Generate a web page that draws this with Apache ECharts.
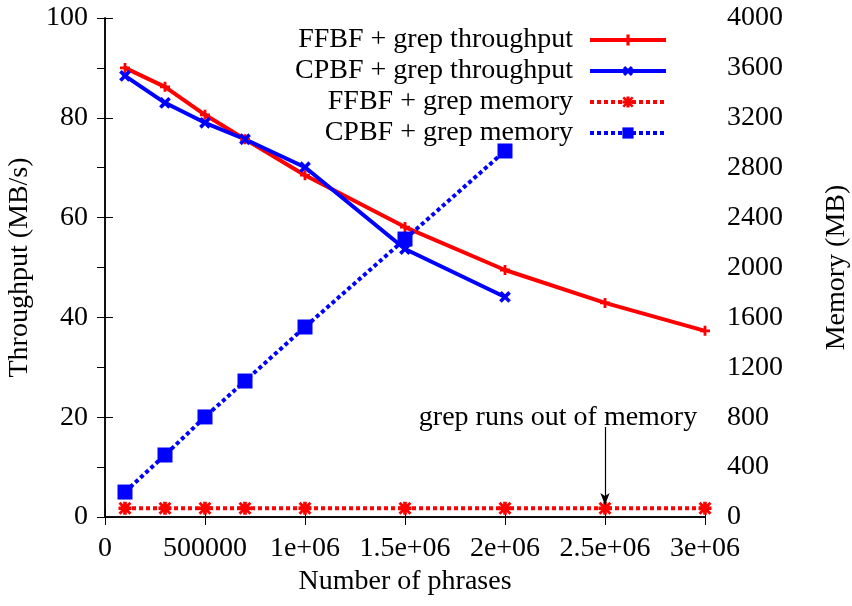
<!DOCTYPE html>
<html>
<head>
<meta charset="utf-8">
<script src="https://cdn.jsdelivr.net/npm/echarts@6/dist/echarts.min.js"></script>
<style>
  html, body { margin: 0; padding: 0; background: #fff; }
  #chart { width: 852px; height: 606px; }
</style>
</head>
<body>
<div id="chart"></div>
<script>
// Number of phrases on the x axis
const phrases = [100000, 300000, 500000, 700000, 1000000, 1500000, 2000000, 2500000, 3000000];
const xTickLabels = ['0', '500000', '1e+06', '1.5e+06', '2e+06', '2.5e+06', '3e+06'];

// Throughput (MB/s)
const ffbfThroughput = [90.0, 86.2, 80.6, 75.7, 68.5, 58.1, 49.5, 42.9, 37.3];
const cpbfThroughput = [88.4, 83.0, 79.0, 75.7, 70.1, 53.7, 44.1];

// Memory (MB)
const ffbfMemory = [70, 70, 70, 70, 70, 70, 70, 70, 70];
const cpbfMemory = [200, 497, 802, 1090, 1523, 2228, 2934];

// Annotation where grep stops
const oomPhrases = 2500000;
const oomArrow = [721, 96];
const oomText = 'grep runs out of memory';

const FONT = 'Liberation Serif';
const FS = 28;

const pairs = (xs, ys) => ys.map((v, i) => [xs[i], v]);

const plusPath = 'path://M3.6,0H6.4V3.6H10V6.4H6.4V10H3.6V6.4H0V3.6H3.6Z';
const starPath = 'path://M3.6,0H6.4V3.6H10V6.4H6.4V10H3.6V6.4H0V3.6H3.6Z' +
  'M0,1.6L1.6,0L5,3.4L8.4,0L10,1.6L6.6,5L10,8.4L8.4,10L5,6.6L1.6,10L0,8.4L3.4,5Z';

const chart = echarts.init(document.getElementById('chart'), null, { renderer: 'canvas' });

const axisLine = { show: true, lineStyle: { color: '#000', width: 1.5 } };
const axisTick = { show: true, inside: true, length: 8, lineStyle: { color: '#000', width: 1 } };
const axisLabel = { color: '#000', fontFamily: FONT, fontSize: FS };
const nameStyle = { color: '#000', fontFamily: FONT, fontSize: FS };

const option = {
  animation: false,
  backgroundColor: '#fff',
  grid: { left: 105, right: 147, top: 18, bottom: 89, containLabel: false, outerBoundsMode: 'none' },
  legend: {
    orient: 'vertical',
    right: 184,
    top: 26,
    align: 'right',
    padding: 0,
    itemGap: 3,
    itemWidth: 76,
    itemHeight: 14,
    lineStyle: { width: 4 },
    textStyle: {
      color: '#000', fontFamily: FONT, fontSize: FS, lineHeight: 26,
      width: 296, align: 'right', padding: [0, 12, 0, 0]
    },
    data: ['FFBF + grep throughput', 'CPBF + grep throughput', 'FFBF + grep memory', 'CPBF + grep memory']
  },
  xAxis: [
    {
      type: 'value', min: 0, max: 3000000, interval: 500000,
      name: 'Number of phrases', nameLocation: 'middle', nameGap: 51,
      nameTextStyle: nameStyle,
      axisLine, axisTick, splitLine: { show: false },
      axisLabel: Object.assign({ margin: 18, formatter: v => xTickLabels[Math.round(v / 500000)] }, axisLabel)
    },
    {
      type: 'value', min: 0, max: 3000000, interval: 500000, position: 'top',
      axisLine, axisTick, splitLine: { show: false }, axisLabel: { show: false }
    }
  ],
  yAxis: [
    {
      type: 'value', min: 0, max: 100, interval: 20, position: 'left',
      name: 'Throughput (MB/s)', nameLocation: 'middle', nameGap: 71,
      nameTextStyle: nameStyle,
      axisLine, axisTick, splitLine: { show: false },
      axisLabel: Object.assign({ margin: 17 }, axisLabel)
    },
    {
      type: 'value', min: 0, max: 4000, interval: 400, position: 'right',
      name: 'Memory (MB)', nameLocation: 'middle', nameGap: 118,
      nameTextStyle: nameStyle,
      axisLine, axisTick, splitLine: { show: false },
      axisLabel: Object.assign({ margin: 22, formatter: v => String(v) }, axisLabel)
    }
  ],
  series: [
    {
      name: 'FFBF + grep throughput', type: 'line', yAxisIndex: 0,
      data: pairs(phrases, ffbfThroughput),
      symbol: plusPath, symbolSize: 10,
      lineStyle: { color: '#ff0000', width: 4 },
      itemStyle: { color: '#ff0000' }
    },
    {
      name: 'CPBF + grep throughput', type: 'line', yAxisIndex: 0,
      data: pairs(phrases, cpbfThroughput),
      symbol: plusPath, symbolRotate: 45, symbolSize: 13,
      lineStyle: { color: '#0000ff', width: 4 },
      itemStyle: { color: '#0000ff' }
    },
    {
      name: 'FFBF + grep memory', type: 'line', yAxisIndex: 1,
      data: pairs(phrases, ffbfMemory),
      symbol: starPath, symbolSize: 13,
      lineStyle: { color: '#ff0000', width: 4, type: [4, 3] },
      itemStyle: { color: '#ff0000' },
      markLine: {
        silent: true,
        symbol: ['none', 'arrow'],
        symbolSize: [7, 12],
        lineStyle: { color: '#000', width: 1.2, type: 'solid' },
        label: { show: false },
        data: [[
          { coord: [oomPhrases, oomArrow[0]] },
          { coord: [oomPhrases, oomArrow[1]] }
        ]]
      }
    },
    {
      name: 'CPBF + grep memory', type: 'line', yAxisIndex: 1,
      data: pairs(phrases, cpbfMemory),
      symbol: 'rect', symbolSize: 15,
      lineStyle: { color: '#0000ff', width: 4, type: [4, 3] },
      itemStyle: { color: '#0000ff' }
    }
  ]
};

chart.setOption(option);

// Place the annotation text just above the arrow start
const p = chart.convertToPixel({ xAxisIndex: 0, yAxisIndex: 1 }, [oomPhrases, oomArrow[0]]);
chart.setOption({
  graphic: [{
    type: 'text',
    x: p[0] - 47,
    y: p[1] - 9,
    style: {
      text: oomText, fill: '#000', font: FS + 'px "' + FONT + '"',
      align: 'center', verticalAlign: 'middle'
    },
    z: 10
  }]
});
</script>
</body>
</html>
